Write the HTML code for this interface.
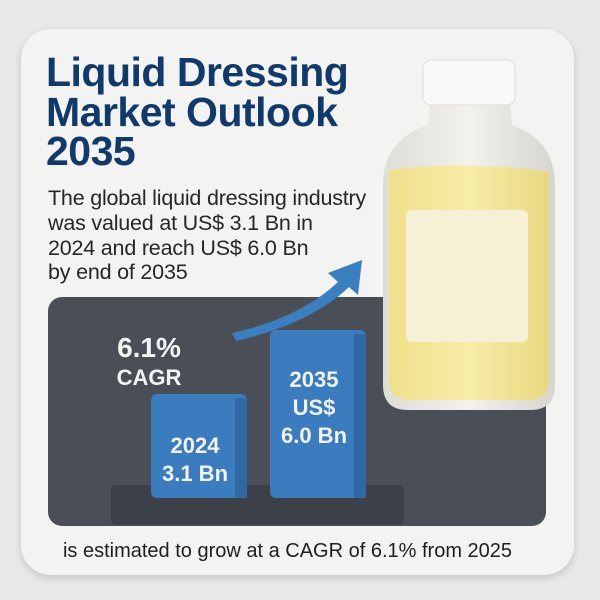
<!DOCTYPE html>
<html><head><meta charset="utf-8"><style>
body{margin:0;width:600px;height:600px;background:#e8e8e6;font-family:"Liberation Sans",sans-serif;overflow:hidden;position:relative}
.abs{position:absolute}
</style></head><body>
<div class="abs" style="left:21px;top:29px;width:553px;height:546px;background:#f3f3f1;border-radius:30px;box-shadow:0 3px 8px rgba(0,0,0,0.15)"></div>
<div class="abs" style="left:46px;top:53px;width:360px;color:#0f3a6b;font-weight:bold;font-size:41px;line-height:39.5px;letter-spacing:-0.5px;white-space:nowrap">Liquid Dressing<br>Market Outlook<br>2035</div>
<div class="abs" style="left:48px;top:186px;width:350px;color:#262626;font-size:21.5px;line-height:24.8px;letter-spacing:-0.2px;white-space:nowrap">The global liquid dressing industry<br>was valued at US$ 3.1 Bn in<br>2024 and reach US$ 6.0 Bn<br>by end of 2035</div>
<svg class="abs" style="left:0;top:0" width="600" height="600">
<defs>
<linearGradient id="bt" x1="0" x2="1"><stop offset="0" stop-color="#deddd6"/><stop offset="0.5" stop-color="#f2f1ec"/><stop offset="1" stop-color="#d6d5ce"/></linearGradient>
<linearGradient id="yl" x1="0" x2="1"><stop offset="0" stop-color="#efe08a"/><stop offset="0.5" stop-color="#f8eda8"/><stop offset="1" stop-color="#e8d880"/></linearGradient>
</defs>
<rect x="48" y="297" width="498" height="229" rx="14" fill="#4a4f57"/>
<g>
<path d="M430,100 L510,100 L512,125 Q555,140 555,185 L555,385 Q555,410 530,410 L408,410 Q383,410 383,385 L383,185 Q383,140 428,125 Z" fill="url(#bt)"/>
<path d="M389,170 Q470,160 549,172 L549,380 Q549,400 528,400 L410,400 Q389,400 389,380 Z" fill="url(#yl)"/>
<rect x="406" y="210" width="122" height="132" rx="6" fill="#f6f1d6"/>
<rect x="423" y="60" width="92" height="45" rx="8" fill="#fafafa" stroke="#dcdcdc"/>
</g>
<rect x="111" y="485" width="293" height="40" rx="5" fill="#3b4049"/>
<g id="bars"></g>
<path d="M232,333 Q300,318 338,282 L328,273 L362,260 L358,295 L349,287 Q310,324 236,341 Z" fill="#3a7fc0"/>
<text x="149" y="357" text-anchor="middle" font-size="28" font-weight="bold" fill="#f4f4f4" font-family="Liberation Sans">6.1%</text>
<text x="149" y="385" text-anchor="middle" font-size="22" font-weight="bold" fill="#f4f4f4" font-family="Liberation Sans">CAGR</text>
</svg>
<div class="abs" style="left:0;width:575px;text-align:center;top:540px;font-size:20px;color:#1e1e1e">is estimated to grow at a CAGR of 6.1% from 2025</div>
<script>
const years=["2024","2035"];
const values=[3.1,6.0];
const labels=[["2024","3.1 Bn"],["2035","US$","6.0 Bn"]];
const xs=[151,270], bw=96, base=498;
function h(v){return 35.6+22.07*v;}
const g=document.getElementById('bars');
const NS="http://www.w3.org/2000/svg";
values.forEach((v,i)=>{
 const r=document.createElementNS(NS,'rect');
 
 
 r.setAttribute('x',xs[i]);r.setAttribute('y',base-h(v));
 r.setAttribute('width',bw);r.setAttribute('height',h(v));
 r.setAttribute('rx',6);r.setAttribute('fill','#3a7cbd');
 g.appendChild(r);
 const s=document.createElementNS(NS,'rect');
 
 
 s.setAttribute('x',xs[i]+bw-12);s.setAttribute('y',base-h(v)+4);
 s.setAttribute('width',12);s.setAttribute('height',h(v)-4);s.setAttribute('fill','#2f68a3');
 g.appendChild(s);
 const L=labels[i];const cy=base-h(v)/2+(i==0?12:-8);
 L.forEach((t,j)=>{
  const tx=document.createElementNS(NS,'text');
  
  
  tx.setAttribute('x',xs[i]+bw/2-4);
  tx.setAttribute('y',cy+(j-(L.length-1)/2)*28+9);
  tx.setAttribute('text-anchor','middle');tx.setAttribute('font-size','22');
  tx.setAttribute('font-weight','bold');tx.setAttribute('fill','#f2f2f2');
  tx.setAttribute('font-family','Liberation Sans');
  tx.textContent=t;g.appendChild(tx);
 });
});
</script>
</body></html>
